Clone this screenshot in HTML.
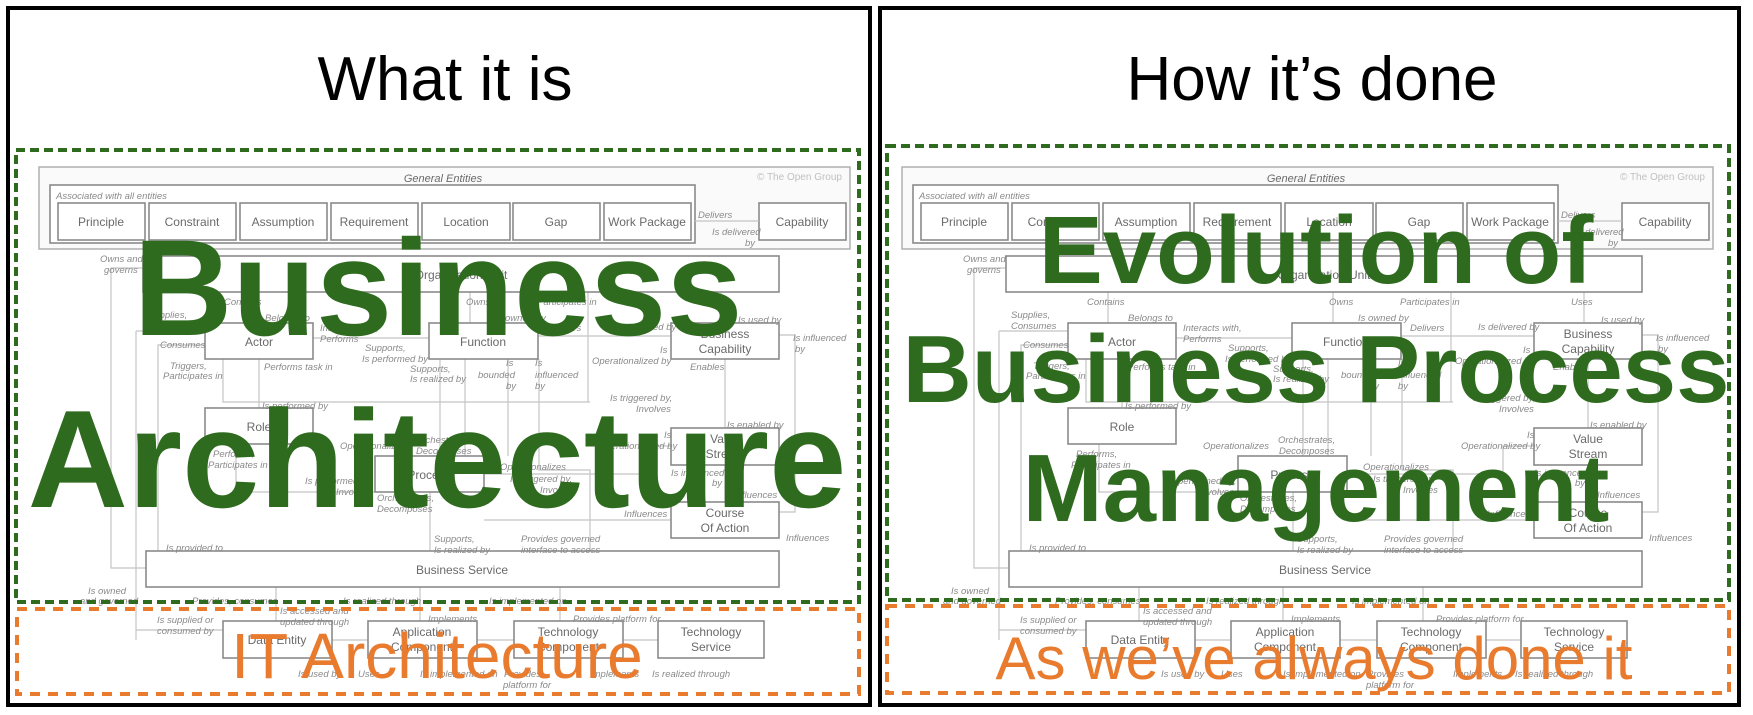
<!DOCTYPE html>
<html><head><meta charset="utf-8"><style>
html,body{margin:0;padding:0;background:#fff;width:1753px;height:715px;overflow:hidden}
svg{display:block}
.bx{fill:#fff;stroke:#8a8a8a;stroke-width:1.6}
.ln{fill:none;stroke:#c4c4c4;stroke-width:1.2}
.bt{font-family:"Liberation Sans",sans-serif;font-size:12px;fill:#6a6a6a;text-anchor:middle}
.lb{font-family:"Liberation Sans",sans-serif;font-size:9.5px;font-style:italic;fill:#8a8a8a}
.tt{font-family:"Liberation Sans",sans-serif;font-size:62px;fill:#000;text-anchor:middle}
.gb{font-family:"Liberation Sans",sans-serif;font-weight:bold;fill:#2f6b1f;text-anchor:middle}
.ob{font-family:"Liberation Sans",sans-serif;fill:#e87b2e;text-anchor:middle}
</style></head><body>
<svg width="1753" height="715" viewBox="0 0 1753 715" xmlns="http://www.w3.org/2000/svg">
<g id="d1">
<rect x="39" y="167" width="811" height="82" fill="#fafafa" stroke="#b0b0b0" stroke-width="1.5"/>
<text x="443" y="182" class="bt" style="font-style:italic;font-size:11px">General Entities</text>
<text x="842" y="180" class="lb" text-anchor="end" style="fill:#c0c0c0;font-style:normal;font-size:10px">© The Open Group</text>
<rect x="50" y="185" width="645" height="58" class="bx" fill="none"/>
<text x="56" y="199" class="lb">Associated with all entities</text>
<rect x="58" y="203" width="87" height="37" class="bx"/><text x="101" y="226" class="bt">Principle</text>
<rect x="149" y="203" width="87" height="37" class="bx"/><text x="192" y="226" class="bt">Constraint</text>
<rect x="240" y="203" width="87" height="37" class="bx"/><text x="283" y="226" class="bt">Assumption</text>
<rect x="331" y="203" width="87" height="37" class="bx"/><text x="374" y="226" class="bt">Requirement</text>
<rect x="422" y="203" width="88" height="37" class="bx"/><text x="466" y="226" class="bt">Location</text>
<rect x="513" y="203" width="87" height="37" class="bx"/><text x="556" y="226" class="bt">Gap</text>
<rect x="604" y="203" width="87" height="37" class="bx"/><text x="647" y="226" class="bt">Work Package</text>
<rect x="759" y="203" width="87" height="37" class="bx"/><text x="802" y="226" class="bt">Capability</text>
<path class="ln" d="M695 221H759"/>
<text x="698" y="218" class="lb">Delivers</text><text x="712" y="235" class="lb">Is delivered</text><text x="745" y="246" class="lb">by</text>
<path class="ln" d="M143 268H111V568H146M136 331V630H223M205 331H136M205 345H158V551M245 292V323M470 292V323M588 292V402M721 292V323M259 359V408M223 359V402H590M313 338H429M538 336H671M465 359V456M440 359V456M508 359V456M539 359V470H590V551M725 359V428M725 465V502M779 335H795V512H779M430 492V551M484 474H640V446H671M484 520H671M276 587V621M420 587V621M560 587V621M332 640H368M477 640H514M623 640H658M236 444V492H375M136 630V640"/>
<rect x="143" y="256" width="636" height="36" class="bx"/><text x="461" y="279" class="bt">Organization Unit</text>
<rect x="205" y="323" width="108" height="36" class="bx"/><text x="259" y="346" class="bt">Actor</text>
<rect x="429" y="323" width="109" height="36" class="bx"/><text x="483" y="346" class="bt">Function</text>
<rect x="671" y="323" width="108" height="36" class="bx"/><text x="725" y="338" class="bt">Business</text><text x="725" y="353" class="bt">Capability</text>
<rect x="205" y="408" width="108" height="36" class="bx"/><text x="259" y="431" class="bt">Role</text>
<rect x="671" y="428" width="108" height="37" class="bx"/><text x="725" y="443" class="bt">Value</text><text x="725" y="458" class="bt">Stream</text>
<rect x="375" y="456" width="109" height="36" class="bx"/><text x="429" y="479" class="bt">Process</text>
<rect x="671" y="502" width="108" height="36" class="bx"/><text x="725" y="517" class="bt">Course</text><text x="725" y="532" class="bt">Of Action</text>
<rect x="146" y="551" width="633" height="36" class="bx"/><text x="462" y="574" class="bt">Business Service</text>
<rect x="223" y="621" width="109" height="37" class="bx"/><text x="277" y="644" class="bt">Data Entity</text>
<rect x="368" y="621" width="109" height="37" class="bx"/><text x="422" y="636" class="bt">Application</text><text x="422" y="651" class="bt">Component</text>
<rect x="514" y="621" width="109" height="37" class="bx"/><text x="568" y="636" class="bt">Technology</text><text x="568" y="651" class="bt">Component</text>
<rect x="658" y="621" width="106" height="37" class="bx"/><text x="711" y="636" class="bt">Technology</text><text x="711" y="651" class="bt">Service</text>
<g class="lb">
<text x="100" y="262">Owns and</text><text x="104" y="273">governs</text>
<text x="224" y="305">Contains</text><text x="466" y="305">Owns</text><text x="537" y="305">Participates in</text><text x="708" y="305">Uses</text>
<text x="148" y="318">Supplies,</text><text x="148" y="329">Consumes</text>
<text x="265" y="321">Belongs to</text><text x="320" y="331">Interacts with,</text><text x="320" y="342">Performs</text>
<text x="495" y="321">Is owned by</text><text x="547" y="331">Delivers</text><text x="615" y="330">Is delivered by</text>
<text x="738" y="323">Is used by</text><text x="793" y="341">Is influenced</text><text x="795" y="352">by</text>
<text x="160" y="348">Consumes</text>
<text x="170" y="369">Triggers,</text><text x="163" y="379">Participates in</text>
<text x="264" y="370">Performs task in</text>
<text x="365" y="351">Supports,</text><text x="362" y="362">Is performed by</text>
<text x="410" y="372">Supports,</text><text x="410" y="382">Is realized by</text>
<text x="506" y="366">Is</text><text x="478" y="378">bounded</text><text x="506" y="389">by</text>
<text x="535" y="366">Is</text><text x="535" y="378">influenced</text><text x="535" y="389">by</text>
<text x="660" y="353">Is</text><text x="592" y="364">Operationalized by</text><text x="690" y="370">Enables</text>
<text x="262" y="409">Is performed by</text>
<text x="610" y="401">Is triggered by,</text><text x="636" y="412">Involves</text>
<text x="727" y="428">Is enabled by</text>
<text x="340" y="449">Operationalizes</text>
<text x="415" y="443">Orchestrates,</text><text x="416" y="454">Decomposes</text>
<text x="664" y="438">Is</text><text x="598" y="449">Operationalized by</text>
<text x="213" y="457">Performs,</text><text x="208" y="468">Participates in</text>
<text x="500" y="470">Operationalizes</text>
<text x="305" y="484">Is performed by,</text><text x="336" y="495">Involves</text>
<text x="377" y="501">Orchestrates,</text><text x="377" y="512">Decomposes</text>
<text x="510" y="482">Is triggered by,</text><text x="540" y="493">Involves</text>
<text x="671" y="476">Is influenced</text><text x="712" y="486">by</text>
<text x="734" y="498">Influences</text><text x="624" y="517">Influences</text><text x="786" y="541">Influences</text>
<text x="166" y="551">Is provided to</text>
<text x="434" y="542">Supports,</text><text x="434" y="553">Is realized by</text>
<text x="521" y="542">Provides governed</text><text x="521" y="553">interface to access</text>
<text x="88" y="594">Is owned</text><text x="80" y="604">and governed</text>
<text x="192" y="604">Provides, consumes</text><text x="343" y="604">Is realized through</text><text x="489" y="604">Is implemented on</text>
<text x="157" y="623">Is supplied or</text><text x="157" y="634">consumed by</text>
<text x="280" y="614">Is accessed and</text><text x="280" y="625">updated through</text>
<text x="428" y="622">Implements</text><text x="573" y="622">Provides platform for</text>
<text x="298" y="677">Is used by</text><text x="358" y="677">Uses</text><text x="420" y="677">Is implemented on</text>
<text x="504" y="677">Provides</text><text x="503" y="688">platform for</text><text x="590" y="677">Implements</text><text x="652" y="677">Is realized through</text>
</g>
</g>
<g transform="translate(863,0)" id="d2">
<rect x="39" y="167" width="811" height="82" fill="#fafafa" stroke="#b0b0b0" stroke-width="1.5"/>
<text x="443" y="182" class="bt" style="font-style:italic;font-size:11px">General Entities</text>
<text x="842" y="180" class="lb" text-anchor="end" style="fill:#c0c0c0;font-style:normal;font-size:10px">© The Open Group</text>
<rect x="50" y="185" width="645" height="58" class="bx" fill="none"/>
<text x="56" y="199" class="lb">Associated with all entities</text>
<rect x="58" y="203" width="87" height="37" class="bx"/><text x="101" y="226" class="bt">Principle</text>
<rect x="149" y="203" width="87" height="37" class="bx"/><text x="192" y="226" class="bt">Constraint</text>
<rect x="240" y="203" width="87" height="37" class="bx"/><text x="283" y="226" class="bt">Assumption</text>
<rect x="331" y="203" width="87" height="37" class="bx"/><text x="374" y="226" class="bt">Requirement</text>
<rect x="422" y="203" width="88" height="37" class="bx"/><text x="466" y="226" class="bt">Location</text>
<rect x="513" y="203" width="87" height="37" class="bx"/><text x="556" y="226" class="bt">Gap</text>
<rect x="604" y="203" width="87" height="37" class="bx"/><text x="647" y="226" class="bt">Work Package</text>
<rect x="759" y="203" width="87" height="37" class="bx"/><text x="802" y="226" class="bt">Capability</text>
<path class="ln" d="M695 221H759"/>
<text x="698" y="218" class="lb">Delivers</text><text x="712" y="235" class="lb">Is delivered</text><text x="745" y="246" class="lb">by</text>
<path class="ln" d="M143 268H111V568H146M136 331V630H223M205 331H136M205 345H158V551M245 292V323M470 292V323M588 292V402M721 292V323M259 359V408M223 359V402H590M313 338H429M538 336H671M465 359V456M440 359V456M508 359V456M539 359V470H590V551M725 359V428M725 465V502M779 335H795V512H779M430 492V551M484 474H640V446H671M484 520H671M276 587V621M420 587V621M560 587V621M332 640H368M477 640H514M623 640H658M236 444V492H375M136 630V640"/>
<rect x="143" y="256" width="636" height="36" class="bx"/><text x="461" y="279" class="bt">Organization Unit</text>
<rect x="205" y="323" width="108" height="36" class="bx"/><text x="259" y="346" class="bt">Actor</text>
<rect x="429" y="323" width="109" height="36" class="bx"/><text x="483" y="346" class="bt">Function</text>
<rect x="671" y="323" width="108" height="36" class="bx"/><text x="725" y="338" class="bt">Business</text><text x="725" y="353" class="bt">Capability</text>
<rect x="205" y="408" width="108" height="36" class="bx"/><text x="259" y="431" class="bt">Role</text>
<rect x="671" y="428" width="108" height="37" class="bx"/><text x="725" y="443" class="bt">Value</text><text x="725" y="458" class="bt">Stream</text>
<rect x="375" y="456" width="109" height="36" class="bx"/><text x="429" y="479" class="bt">Process</text>
<rect x="671" y="502" width="108" height="36" class="bx"/><text x="725" y="517" class="bt">Course</text><text x="725" y="532" class="bt">Of Action</text>
<rect x="146" y="551" width="633" height="36" class="bx"/><text x="462" y="574" class="bt">Business Service</text>
<rect x="223" y="621" width="109" height="37" class="bx"/><text x="277" y="644" class="bt">Data Entity</text>
<rect x="368" y="621" width="109" height="37" class="bx"/><text x="422" y="636" class="bt">Application</text><text x="422" y="651" class="bt">Component</text>
<rect x="514" y="621" width="109" height="37" class="bx"/><text x="568" y="636" class="bt">Technology</text><text x="568" y="651" class="bt">Component</text>
<rect x="658" y="621" width="106" height="37" class="bx"/><text x="711" y="636" class="bt">Technology</text><text x="711" y="651" class="bt">Service</text>
<g class="lb">
<text x="100" y="262">Owns and</text><text x="104" y="273">governs</text>
<text x="224" y="305">Contains</text><text x="466" y="305">Owns</text><text x="537" y="305">Participates in</text><text x="708" y="305">Uses</text>
<text x="148" y="318">Supplies,</text><text x="148" y="329">Consumes</text>
<text x="265" y="321">Belongs to</text><text x="320" y="331">Interacts with,</text><text x="320" y="342">Performs</text>
<text x="495" y="321">Is owned by</text><text x="547" y="331">Delivers</text><text x="615" y="330">Is delivered by</text>
<text x="738" y="323">Is used by</text><text x="793" y="341">Is influenced</text><text x="795" y="352">by</text>
<text x="160" y="348">Consumes</text>
<text x="170" y="369">Triggers,</text><text x="163" y="379">Participates in</text>
<text x="264" y="370">Performs task in</text>
<text x="365" y="351">Supports,</text><text x="362" y="362">Is performed by</text>
<text x="410" y="372">Supports,</text><text x="410" y="382">Is realized by</text>
<text x="506" y="366">Is</text><text x="478" y="378">bounded</text><text x="506" y="389">by</text>
<text x="535" y="366">Is</text><text x="535" y="378">influenced</text><text x="535" y="389">by</text>
<text x="660" y="353">Is</text><text x="592" y="364">Operationalized by</text><text x="690" y="370">Enables</text>
<text x="262" y="409">Is performed by</text>
<text x="610" y="401">Is triggered by,</text><text x="636" y="412">Involves</text>
<text x="727" y="428">Is enabled by</text>
<text x="340" y="449">Operationalizes</text>
<text x="415" y="443">Orchestrates,</text><text x="416" y="454">Decomposes</text>
<text x="664" y="438">Is</text><text x="598" y="449">Operationalized by</text>
<text x="213" y="457">Performs,</text><text x="208" y="468">Participates in</text>
<text x="500" y="470">Operationalizes</text>
<text x="305" y="484">Is performed by,</text><text x="336" y="495">Involves</text>
<text x="377" y="501">Orchestrates,</text><text x="377" y="512">Decomposes</text>
<text x="510" y="482">Is triggered by,</text><text x="540" y="493">Involves</text>
<text x="671" y="476">Is influenced</text><text x="712" y="486">by</text>
<text x="734" y="498">Influences</text><text x="624" y="517">Influences</text><text x="786" y="541">Influences</text>
<text x="166" y="551">Is provided to</text>
<text x="434" y="542">Supports,</text><text x="434" y="553">Is realized by</text>
<text x="521" y="542">Provides governed</text><text x="521" y="553">interface to access</text>
<text x="88" y="594">Is owned</text><text x="80" y="604">and governed</text>
<text x="192" y="604">Provides, consumes</text><text x="343" y="604">Is realized through</text><text x="489" y="604">Is implemented on</text>
<text x="157" y="623">Is supplied or</text><text x="157" y="634">consumed by</text>
<text x="280" y="614">Is accessed and</text><text x="280" y="625">updated through</text>
<text x="428" y="622">Implements</text><text x="573" y="622">Provides platform for</text>
<text x="298" y="677">Is used by</text><text x="358" y="677">Uses</text><text x="420" y="677">Is implemented on</text>
<text x="504" y="677">Provides</text><text x="503" y="688">platform for</text><text x="590" y="677">Implements</text><text x="652" y="677">Is realized through</text>
</g>
</g>
<!-- panels -->
<rect x="8" y="8" width="862" height="697" fill="none" stroke="#000" stroke-width="4"/>
<rect x="880" y="8" width="859" height="697" fill="none" stroke="#000" stroke-width="4"/>
<!-- dashed boxes -->
<rect x="16" y="150" width="843" height="452" fill="none" stroke="#2f6b1f" stroke-width="4" stroke-dasharray="9 5"/>
<rect x="17" y="609" width="842" height="85" fill="none" stroke="#e87b2e" stroke-width="4" stroke-dasharray="10 8"/>
<rect x="887" y="146" width="842" height="454" fill="none" stroke="#2f6b1f" stroke-width="4" stroke-dasharray="9 5"/>
<rect x="887" y="606" width="842" height="87" fill="none" stroke="#e87b2e" stroke-width="4" stroke-dasharray="10 8"/>
<!-- titles -->
<text x="445" y="100" class="tt">What it is</text>
<text x="1312" y="100" class="tt">How it’s done</text>
<text x="438" y="335" class="gb" font-size="137">Business</text>
<text x="437" y="507" class="gb" font-size="139">Architecture</text>
<text x="1316" y="283" class="gb" font-size="96">Evolution of</text>
<text x="1316" y="402" class="gb" font-size="96">Business Process</text>
<text x="1316" y="521" class="gb" font-size="96">Management</text>
<text x="437" y="678" class="ob" font-size="64">IT Architecture</text>
<text x="1314" y="679" class="ob" font-size="60">As we’ve always done it</text>
</svg>
</body></html>
